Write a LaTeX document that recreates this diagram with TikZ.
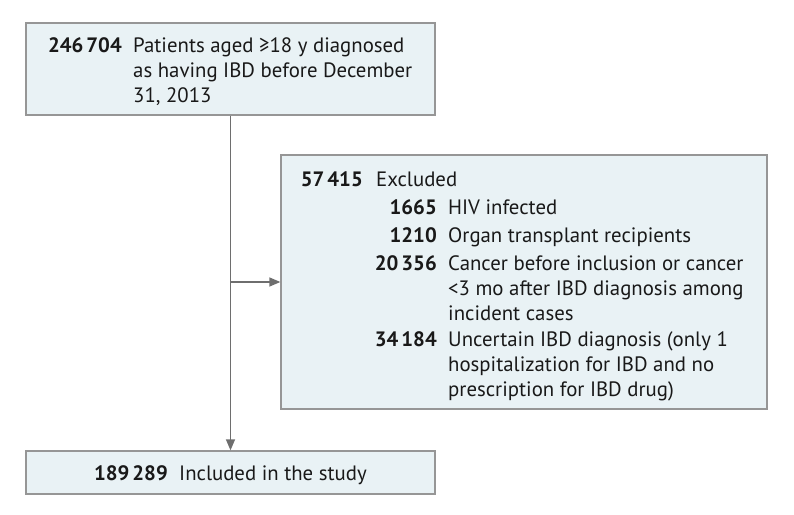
\documentclass[tikz,border=0pt]{standalone}
\usepackage{fontspec}
\setmainfont{PT Sans}
\usetikzlibrary{arrows.meta}
\definecolor{boxfill}{RGB}{233,242,245}
\definecolor{boxline}{RGB}{150,150,150}
\definecolor{arrowgray}{RGB}{110,110,110}
\definecolor{txt}{RGB}{25,25,25}
\tikzset{
  flowbox/.style={draw=boxline, line width=1.3pt, fill=boxfill, rectangle, inner sep=0pt},
  numlabel/.style={anchor=base east, inner sep=0pt, text=txt, font=\fontsize{20.8}{25}\selectfont\bfseries},
  txtlabel/.style={anchor=base west, inner sep=0pt, text=txt, font=\fontsize{20.8}{25}\selectfont},
  conn/.style={draw=arrowgray, line width=1.3pt},
  connarrow/.style={conn, -{Triangle[length=11pt,width=9pt]}, arrowgray}
}
\newcommand{\lines}[1]{\begin{tabular}[t]{@{}l@{}}#1\end{tabular}}
\newcommand{\ths}{\kern0.14em}
\begin{document}
\begin{tikzpicture}[x=1pt,y=-1pt]
\useasboundingbox (0,0) rectangle (794,514);
% boxes
\node[flowbox, minimum width=409pt, minimum height=92pt] (top) at (230.5,69) {};
\node[flowbox, minimum width=486pt, minimum height=254pt] (excl) at (524,282) {};
\node[flowbox, minimum width=409pt, minimum height=43pt] (incl) at (230.5,472.5) {};
% top text
\node[numlabel] (n1) at (122,52) {246\ths704};
\node[txtlabel] (t1) at (133,52) {\lines{Patients aged ≥18 y diagnosed\\as having IBD before December\\31, 2013}};
% excluded text
\node[numlabel] (n2) at (363,186) {57\ths415};
\node[txtlabel] (t2) at (376,186) {Excluded};
\node[numlabel] (n3) at (437,214) {1665};
\node[txtlabel] (t3) at (448,214) {HIV infected};
\node[numlabel] (n4) at (437,242) {1210};
\node[txtlabel] (t4) at (448,242) {Organ transplant recipients};
\node[numlabel] (n5) at (437,270) {20\ths356};
\node[txtlabel] (t5) at (448,270) {\lines{Cancer before inclusion or cancer\\<3 mo after IBD diagnosis among\\incident cases}};
\node[numlabel] (n6) at (437,346) {34\ths184};
\node[txtlabel] (t6) at (448,346) {\lines{Uncertain IBD diagnosis (only 1\\hospitalization for IBD and no\\prescription for IBD drug)}};
% bottom text
\node[numlabel] (n7) at (168,480) {189\ths289};
\node[txtlabel] (t7) at (179,480) {Included in the study};
% connectors
\coordinate (branch) at (top.south |- excl.west);
\draw[connarrow] (top.south) -- (incl.north);
\draw[connarrow] (branch) -- (excl.west);
\end{tikzpicture}
\end{document}
